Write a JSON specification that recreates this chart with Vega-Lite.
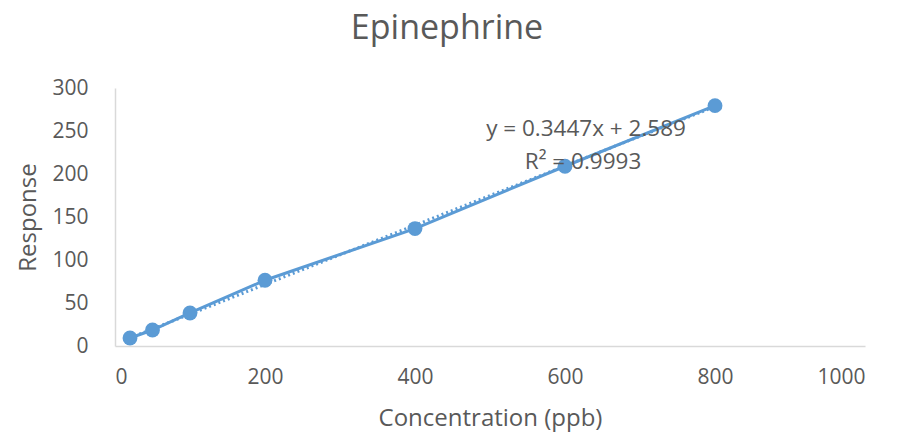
{
  "$schema": "https://vega.github.io/schema/vega-lite/v6.json",
  "autosize": "none",
  "width": 750,
  "height": 258,
  "padding": {"left": 115, "top": 88, "right": 40, "bottom": 95},
  "background": "white",
  "config": {
    "view": {"stroke": null},
    "font": "Open Sans",
    "axis": {"grid": false, "ticks": false, "domainColor": "#d9d9d9", "domainWidth": 1.5, "labelColor": "#595959", "titleColor": "#595959", "labelFont": "Open Sans", "titleFont": "Open Sans", "labelFontSize": 21, "titleFontSize": 24, "titleFontWeight": "normal"}
  },
  "title": {"text": "Epinephrine", "fontSize": 34, "font": "Open Sans", "fontWeight": "normal", "color": "#595959", "anchor": "middle", "dx": -43, "offset": 31},
  "datasets": {
    "points": [
      {"conc": 20, "response": 9.3},
      {"conc": 50, "response": 18.6},
      {"conc": 100, "response": 38.4},
      {"conc": 200, "response": 76.5},
      {"conc": 400, "response": 136.5},
      {"conc": 600, "response": 209},
      {"conc": 800, "response": 279.5}
    ],
    "trend": [
      {"conc": 20, "response": 9.48},
      {"conc": 800, "response": 278.35}
    ]
  },
  "layer": [
    {
      "data": {"name": "trend"},
      "mark": {"type": "line", "color": "#5b9bd5", "strokeWidth": 3, "strokeDash": [2, 3]},
      "encoding": {
        "x": {"field": "conc", "type": "quantitative", "scale": {"domain": [0, 1000]}, "axis": {"values": [0, 200, 400, 600, 800, 1000], "format": "d", "title": "Concentration (ppb)", "labelPadding": 20, "titlePadding": 19}},
        "y": {"field": "response", "type": "quantitative", "scale": {"domain": [0, 300]}, "axis": {"values": [0, 50, 100, 150, 200, 250, 300], "format": "d", "title": "Response", "labelPadding": 27, "titlePadding": 11}}
      }
    },
    {
      "data": {"name": "points"},
      "mark": {"type": "line", "color": "#5b9bd5", "strokeWidth": 3},
      "encoding": {
        "x": {"field": "conc", "type": "quantitative"},
        "y": {"field": "response", "type": "quantitative"}
      }
    },
    {
      "data": {"name": "points"},
      "mark": {"type": "point", "filled": true, "opacity": 1, "color": "#5b9bd5", "size": 220, "shape": "circle"},
      "encoding": {
        "x": {"field": "conc", "type": "quantitative"},
        "y": {"field": "response", "type": "quantitative"}
      }
    },
    {
      "data": {"values": [{}]},
      "mark": {"type": "text", "fontSize": 22.5, "color": "#595959", "align": "center", "baseline": "middle", "font": "Open Sans"},
      "encoding": {
        "x": {"datum": 628},
        "y": {"datum": 252},
        "text": {"value": "y = 0.3447x + 2.589"}
      }
    },
    {
      "data": {"values": [{}]},
      "mark": {"type": "text", "fontSize": 22.5, "color": "#595959", "align": "center", "baseline": "middle", "font": "Open Sans"},
      "encoding": {
        "x": {"datum": 624},
        "y": {"datum": 214},
        "text": {"value": "R² = 0.9993"}
      }
    }
  ]
}
